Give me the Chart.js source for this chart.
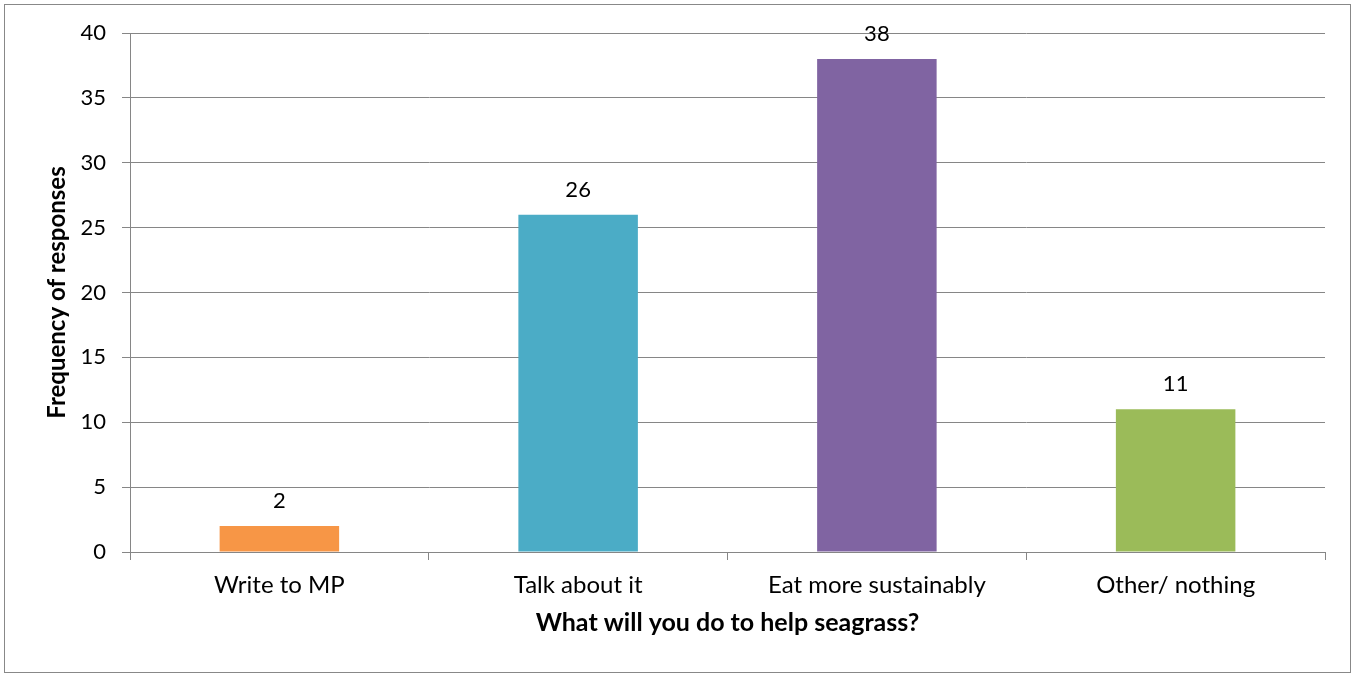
<!DOCTYPE html>
<html>
<head>
<meta charset="utf-8">
<script src="https://cdn.jsdelivr.net/npm/chart.js@4.4.0/dist/chart.umd.min.js"></script>
<style>
html,body{margin:0;padding:0;background:#fff;}
#wrap{position:relative;width:1355px;height:675px;}
</style>
</head>
<body>
<div id="wrap"><canvas id="c" width="1355" height="675"></canvas></div>
<script>
const categories = ["Write to MP", "Talk about it", "Eat more sustainably", "Other/ nothing"];
const responses = [2, 26, 38, 11];
const barColors = ["#F79646", "#4BACC6", "#8064A2", "#9BBB59"];
const xTitle = "What will you do to help seagrass?";
const yTitle = "Frequency of responses";

const FONT = "Lato, 'Open Sans', sans-serif";
const GRID = "#868686";

const labelPlugin = {
  id: 'barLabels',
  afterDatasetsDraw(chart) {
    const ctx = chart.ctx;
    const meta = chart.getDatasetMeta(0);
    ctx.save();
    ctx.font = "22px " + FONT;
    ctx.fillStyle = "#000";
    ctx.textAlign = "center";
    ctx.textBaseline = "middle";
    meta.data.forEach((bar, i) => {
      ctx.fillText(String(responses[i]), bar.x, bar.y - 25);
    });
    ctx.restore();
  }
};

const borderPlugin = {
  id: 'outerBorder',
  afterDraw(chart) {
    const ctx = chart.ctx;
    ctx.save();
    ctx.strokeStyle = "#888888";
    ctx.lineWidth = 1;
    ctx.strokeRect(4.5, 4.5, 1346, 668);
    ctx.restore();
  }
};

new Chart(document.getElementById('c'), {
  type: 'bar',
  data: {
    labels: categories,
    datasets: [{
      data: responses,
      backgroundColor: barColors,
      borderWidth: 0,
      barPercentage: 0.4,
      categoryPercentage: 1.0
    }]
  },
  options: {
    responsive: false,
    animation: false,
    events: [],
    layout: { padding: { left: 0, top: 33, right: 30, bottom: 0 } },
    plugins: { legend: { display: false }, tooltip: { enabled: false } },
    scales: {
      x: {
        offset: true,
        grid: { drawOnChartArea: false, offset: true, tickLength: 8, color: GRID, lineWidth: 1 },
        border: { display: true, color: GRID, width: 1 },
        ticks: { color: "#000", font: { family: FONT, size: 24 }, padding: 11, maxRotation: 0 },
        title: { display: true, text: xTitle, color: "#000", font: { family: FONT, size: 25, weight: 'bold' }, padding: { top: 0, bottom: 37 } },
        afterFit(scale) { scale.height = 123; }
      },
      y: {
        min: 0, max: 40,
        ticks: { stepSize: 5, color: "#000", font: { family: FONT, size: 22 }, padding: 16 },
        grid: { color: GRID, lineWidth: 1, tickLength: 8 },
        border: { display: true, color: GRID, width: 1 },
        title: { display: true, text: yTitle, color: "#000", font: { family: FONT, size: 24, weight: 'bold' }, padding: { top: 43, bottom: 0 } },
        afterFit(scale) { scale.width = 130; }
      }
    }
  },
  plugins: [labelPlugin, borderPlugin]
});
</script>
</body>
</html>
